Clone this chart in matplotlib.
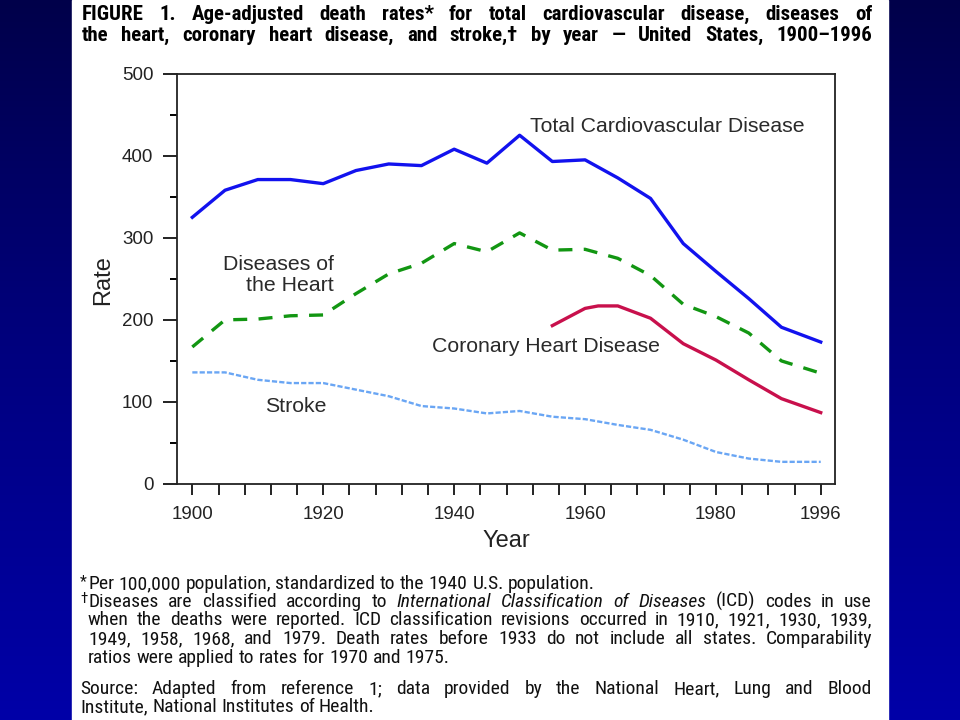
import os
import matplotlib
matplotlib.use('Agg')
import matplotlib.pyplot as plt
import numpy as np
from matplotlib import font_manager as fm
from matplotlib.patches import Rectangle
from matplotlib.colors import LinearSegmentedColormap

# ---------------- data ----------------
years_total = [1900, 1905, 1910, 1915, 1918, 1920, 1925, 1930, 1935, 1940, 1945,
               1950, 1955, 1960, 1965, 1970, 1975, 1980, 1985, 1990, 1996]
total_cvd = [325, 358, 371, 371, 368, 366, 382, 390, 388, 408, 391,
             425, 393, 395, 373, 348, 293, 259, 226, 191, 173]

years_heart = [1900, 1905, 1910, 1915, 1920, 1925, 1930, 1935, 1940, 1945,
               1950, 1955, 1960, 1965, 1970, 1975, 1980, 1985, 1990, 1996]
heart = [167, 200, 201, 205, 206, 232, 256, 269, 293, 283,
         306, 285, 286, 275, 254, 219, 204, 184, 150, 135]

years_chd = [1955, 1960, 1962, 1965, 1970, 1975, 1980, 1985, 1990, 1996]
chd = [193, 214, 217, 217, 202, 171, 151, 127, 104, 87]

years_stroke = [1900, 1905, 1910, 1915, 1920, 1925, 1930, 1935, 1940, 1945,
                1950, 1955, 1960, 1965, 1970, 1975, 1980, 1985, 1990, 1996]
stroke = [136, 136, 127, 123, 123, 115, 107, 95, 92, 86,
          89, 82, 79, 72, 66, 54, 39, 31, 27, 27]

xtick_positions = list(range(1900, 1997, 4))
xtick_labeled = [1900, 1920, 1940, 1960, 1980, 1996]
ytick_major = [0, 100, 200, 300, 400, 500]
ytick_minor = [50, 150, 250, 350, 450]

title_lines = [
    "FIGURE 1. Age-adjusted death rates* for total cardiovascular disease, diseases of",
    "the heart, coronary heart disease, and stroke,\u2020 by year \u2014 United States, 1900\u20131996",
]

# ---------------- fonts ----------------
names = {f.name for f in fm.fontManager.ttflist}
CHART = 'Liberation Sans' if 'Liberation Sans' in names else 'DejaVu Sans'

files = {os.path.basename(f.fname).lower(): f.fname for f in fm.fontManager.ttflist}


def find(prefix):
    for k, v in files.items():
        if k.startswith(prefix):
            return v
    return None


groups = [
    ('liberationsansnarrow-regular', 'liberationsansnarrow-bold.', 'liberationsansnarrow-italic'),
    ('robotocondensed-regular', 'robotocondensed-bold.', 'robotocondensed-italic'),
    ('notosans-condensed.', 'notosans-condensedbold.', 'notosans-condenseditalic.'),
    ('dejavusanscondensed.', 'dejavusanscondensed-bold.', 'dejavusanscondensed-oblique.'),
]
FP = None
for r, b, i in groups:
    fr, fb, fi = find(r), find(b), find(i)
    if fr and fb:
        FP = {
            ('normal', 'normal'): fm.FontProperties(fname=fr),
            ('bold', 'normal'): fm.FontProperties(fname=fb),
            ('normal', 'italic'): fm.FontProperties(fname=fi) if fi else
            fm.FontProperties(family=CHART, style='italic'),
        }
        break
if FP is None:
    FP = {
        ('normal', 'normal'): fm.FontProperties(family=CHART),
        ('bold', 'normal'): fm.FontProperties(family=CHART, weight='bold'),
        ('normal', 'italic'): fm.FontProperties(family=CHART, style='italic'),
    }


def fprop(size, weight='normal', style='normal'):
    p = FP[(weight, style)].copy()
    p.set_size(size)
    return p


W, H = 960, 720
fig = plt.figure(figsize=(W / 100, H / 100), dpi=100)
renderer = fig.canvas.get_renderer()

# ---------------- background ----------------
bg = fig.add_axes([0, 0, 1, 1], zorder=-10)
grad = np.linspace(0, 1, 256).reshape(-1, 1)
cmap = LinearSegmentedColormap.from_list('bg', ['#00004a', '#000080', '#0000a8'])
bg.imshow(grad, aspect='auto', cmap=cmap, extent=[0, 1, 0, 1], origin='upper')
bg.add_patch(Rectangle((72 / W, 0), (888 - 72) / W, 1, color='white', zorder=2))
bg.set_xlim(0, 1)
bg.set_ylim(0, 1)
bg.axis('off')


# ---------------- text helpers ----------------
def px2fig(x, y):
    return x / W, 1 - y / H


def text_width(s, size, weight='normal', style='normal'):
    t = fig.text(0, 0, s, fontproperties=fprop(size, weight, style))
    w = t.get_window_extent(renderer).width
    t.remove()
    return w


def split_words(segs):
    words = []
    for txt, st in segs:
        for w in txt.split(' '):
            if w:
                words.append((w, st))
    return words


def fit_size(lines, target, maxsize, weight='normal'):
    ref = 10.0
    best = maxsize
    sp = text_width('a a', ref, weight) - text_width('aa', ref, weight)
    for segs in lines:
        words = split_words(segs)
        tot = sum(text_width(w, ref, weight, st) for w, st in words)
        need = tot + (len(words) - 1) * sp * 1.0
        best = min(best, ref * target / need)
    return best


def draw_line(segs, x0, x1, ybase, size, weight='normal', justify=False,
              color='#111111'):
    words = split_words(segs)
    widths = [text_width(w, size, weight, st) for w, st in words]
    sp = text_width('a a', size, weight) - text_width('aa', size, weight)
    n = len(words)
    gap = (x1 - x0 - sum(widths)) / (n - 1) if (justify and n > 1) else sp
    x = x0
    for (w, st), wd in zip(words, widths):
        fx, fy = px2fig(x, ybase)
        fig.text(fx, fy, w, fontproperties=fprop(size, weight, st),
                 ha='left', va='baseline', color=color)
        x += wd + gap


# ---------------- title ----------------
tsegs = [[(t, 'normal')] for t in title_lines]
tsize = fit_size(tsegs, 872 - 82, 15.0, 'bold')
draw_line(tsegs[0], 82, 872, 20, tsize, 'bold', justify=True, color='black')
draw_line(tsegs[1], 82, 872, 41, tsize, 'bold', justify=True, color='black')

# ---------------- main axes ----------------
ax = fig.add_axes([177 / W, (H - 484) / H, (835 - 177) / W, (484 - 73.7) / H])
ax.set_facecolor('white')
ax.set_xlim(1897.66, 1998.18)
ax.set_ylim(0, 500)

ax.plot(years_total, total_cvd, color='#1212ee', lw=2.4, solid_joinstyle='round')
ax.plot(years_heart, heart, color='#129612', lw=2.4, ls=(0, (4.2, 3.4)))
ax.plot(years_chd, chd, color='#c8104c', lw=2.4, solid_joinstyle='round')
ax.plot(years_stroke, stroke, color='#6aa6f4', lw=1.7, ls=(0, (2.2, 0.9)))

for sp_ in ax.spines.values():
    sp_.set_linewidth(1.3)
    sp_.set_color('#222222')

ax.set_xticks(xtick_positions)
ax.set_xticklabels([str(y) if y in xtick_labeled else '' for y in xtick_positions])
ax.set_yticks(ytick_major)
ax.set_yticks(ytick_minor, minor=True)
ax.tick_params(axis='x', which='major', length=8, width=1.4, direction='out',
               pad=8, labelsize=13.5, colors='#222222')
ax.tick_params(axis='y', which='major', length=10, width=1.4, direction='out',
               pad=7, labelsize=13.5, colors='#222222')
ax.tick_params(axis='y', which='minor', length=5, width=1.4, direction='out')
for lab in ax.get_xticklabels() + ax.get_yticklabels():
    lab.set_family(CHART)

ax.set_xlabel('Year', fontsize=17, family=CHART, color='#222222')
ax.set_ylabel('Rate', fontsize=17, family=CHART, color='#222222')
ax.xaxis.set_label_coords((506 - 177) / 658, (484 - 541) / 410.3)
ax.xaxis.label.set_va('center')
ax.yaxis.set_label_coords((103 - 177) / 658, (484 - 280) / 410.3)
ax.yaxis.label.set_va('center')

lab_kw = dict(fontsize=15.3, family=CHART, color='#2a2a2a')
ax.text(1951.6, 436, 'Total Cardiovascular Disease', ha='left', va='center', **lab_kw)
ax.text(1921.6, 255, 'Diseases of\nthe Heart', ha='right', va='center',
        multialignment='right', linespacing=1.15, **lab_kw)
ax.text(1936.6, 168, 'Coronary Heart Disease', ha='left', va='center', **lab_kw)
ax.text(1911.1, 95, 'Stroke', ha='left', va='center', **lab_kw)

# ---------------- footnotes ----------------
fn_lines = [
    [("Diseases are classified according to", 'normal'),
     ("International Classification of Diseases", 'italic'),
     ("(ICD) codes in use", 'normal')],
    [("when the deaths were reported. ICD classification revisions occurred in 1910, 1921, 1930, 1939,", 'normal')],
    [("1949, 1958, 1968, and 1979. Death rates before 1933 do not include all states. Comparability", 'normal')],
    [("Source: Adapted from reference 1; data provided by the National Heart, Lung and Blood", 'normal')],
]
fsize = min(fit_size(fn_lines[:3], 872 - 88, 14.0),
            fit_size(fn_lines[3:], 872 - 80, 14.0))

fx, fy = px2fig(80, 586)
fig.text(fx, fy, '*', fontproperties=fprop(fsize * 0.8), ha='left', va='baseline', color='#111111')
draw_line([("Per 100,000 population, standardized to the 1940 U.S. population.", 'normal')],
          88, 872, 589, fsize)
fx, fy = px2fig(80, 603)
fig.text(fx, fy, '\u2020', fontproperties=fprop(fsize * 0.75), ha='left', va='baseline', color='#111111')
draw_line(fn_lines[0], 88, 872, 607, fsize, justify=True)
draw_line(fn_lines[1], 88, 872, 625, fsize, justify=True)
draw_line(fn_lines[2], 88, 872, 644, fsize, justify=True)
draw_line([("ratios were applied to rates for 1970 and 1975.", 'normal')], 88, 872, 663, fsize)
draw_line(fn_lines[3], 80, 872, 694, fsize, justify=True)
draw_line([("Institute, National Institutes of Health.", 'normal')], 80, 872, 712, fsize)

fig.savefig('out.png', dpi=100)
